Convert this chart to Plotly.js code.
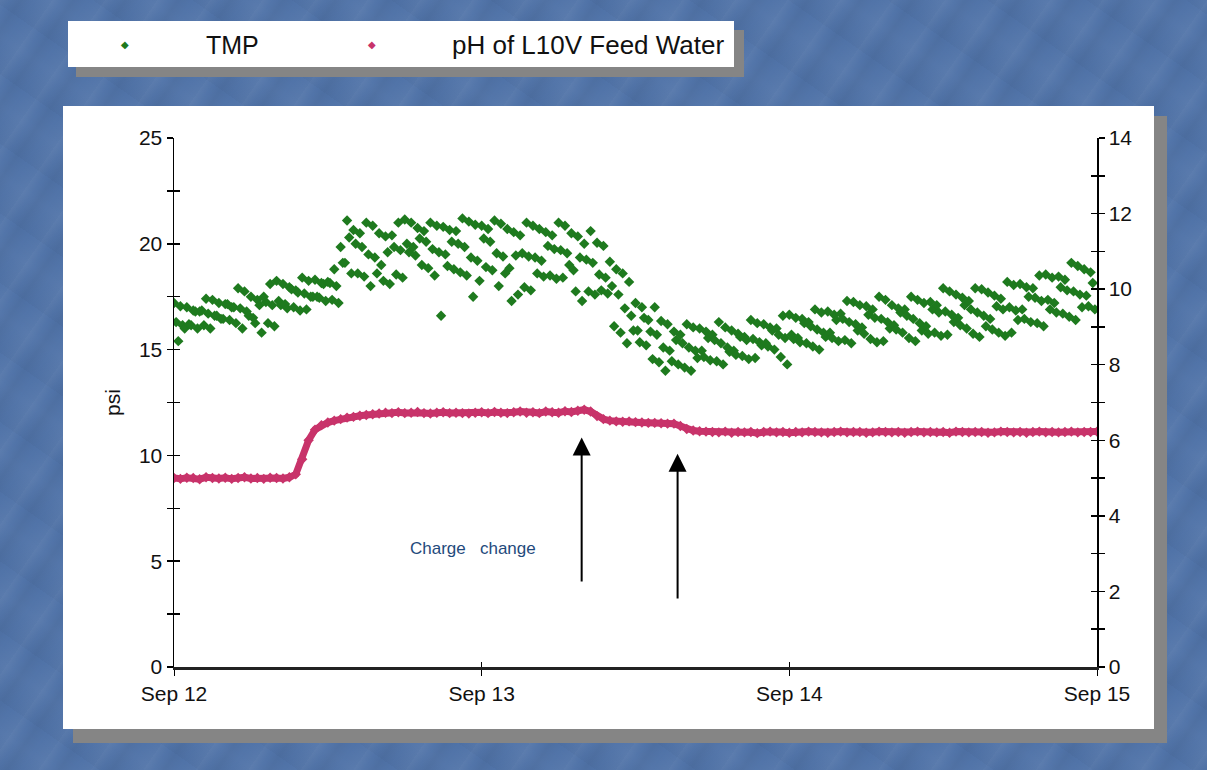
<!DOCTYPE html>
<html>
<head>
<meta charset="utf-8">
<script src="https://cdn.plot.ly/plotly-3.0.1.min.js"></script>
<style>
html,body{margin:0;padding:0;width:1207px;height:770px;overflow:hidden;}
body{
  background-color:#5073a8;
  background-image:
    repeating-linear-gradient(125deg, rgba(255,255,255,0.05) 0px, rgba(255,255,255,0.0) 9px, rgba(0,0,0,0.04) 17px, rgba(255,255,255,0.0) 29px, rgba(255,255,255,0.03) 43px),
    repeating-linear-gradient(35deg, rgba(0,0,0,0.025) 0px, rgba(255,255,255,0.025) 31px, rgba(0,0,0,0.0) 57px);
}
#chart{width:1207px;height:770px;}
</style>
</head>
<body>
<div id="chart"></div>
<script>
// ---------------- data ----------------
const START_UTC = Date.UTC(2005, 8, 12, 0, 0, 0);   // Sep 12
const TMP_STEP_MIN = 10;   // TMP reading interval (minutes)
const PH_STEP_MIN = 30;    // pH reading interval (minutes)

// TMP (psi), one reading every 10 minutes, Sep 12 00:00 -> Sep 14 23:50
const tmpValues = [
  17.2,16.3,15.4, 17.05,16.15,16.0,   17.0,16.2,16.15, 16.85,16.8,16.0,
  16.8,16.85,16.15, 17.4,16.7,16.0,   17.35,16.6,16.6, 17.2,16.45,16.45,
  17.15,17.15,16.4, 17.0,17.0,16.25,  17.9,16.95,16.0, 17.75,16.8,16.6,
  17.5,16.5,16.25, 17.35,17.1,15.8,   17.5,17.25,16.25, 18.1,17.1,16.1,
  18.25,17.3,17.1, 18.1,17.15,16.95,  17.95,17.85,17.0, 17.8,17.7,16.85,
  18.4,17.65,16.9, 18.25,17.5,17.5,   18.3,17.5,17.45, 18.15,18.1,17.3,
  18.2,18.15,17.35, 18.8,18.0,17.2,   19.85,19.1,19.1, 21.1,20.3,18.6,
  20.65,20.0,18.6, 20.5,19.85,18.45,  21.0,19.5,18.0, 20.85,19.35,18.6,
  20.5,19.0,18.25, 20.35,19.6,18.1,   20.4,19.85,18.55, 21.0,19.7,18.4,
  21.15,20.0,19.6, 21.0,19.85,19.45,  20.75,20.25,19.0, 20.6,20.1,18.85,
  21.0,19.75,18.5, 20.85,19.6,16.6,   20.8,19.5,18.95, 20.65,20.1,18.8,
  20.6,20.0,18.65, 21.2,19.85,18.5,   21.05,19.35,17.5, 20.9,19.2,18.25,
  20.85,20.25,18.9, 20.7,20.1,18.75,  21.1,19.55,18.0, 20.95,19.4,18.6,
  20.7,18.85,17.3, 20.55,19.45,17.6,  20.4,19.55,17.95, 21.0,19.4,17.8,
  20.85,19.35,18.6, 20.7,19.2,18.45,  20.55,19.9,18.5, 20.4,19.75,18.35,
  21.0,19.7,18.4, 20.85,19.55,19.0,   20.5,18.75,17.75, 20.35,19.35,17.3,
  20.0,19.25,17.75, 20.6,19.1,17.6,   20.05,18.55,17.8, 19.9,18.4,17.65,
  19.15,18.0,16.1, 18.8,17.6,15.8,    18.6,16.95,15.3, 18.2,16.6,15.9,
  17.2,15.9,15.35, 17.0,16.5,15.2,    16.4,15.85,14.55, 17.0,15.7,14.4,
  16.35,15.1,14.0, 16.2,14.95,14.45,  15.85,15.45,14.3, 15.7,15.3,14.15,
  16.2,15.1,14.0, 16.05,14.95,14.6,   16.0,14.95,14.65, 15.85,15.55,14.5,
  15.7,15.45,14.45, 16.3,15.3,14.3,   16.05,15.1,14.9, 15.9,14.95,14.75,
  15.75,15.6,14.7, 15.6,15.45,14.55,  16.4,15.5,14.6, 16.25,15.35,15.2,
  16.2,15.3,15.15, 16.05,15.9,15.0,   16.0,15.7,14.65, 16.6,15.55,14.3,
  16.65,15.7,15.5, 16.5,15.55,15.35,  16.45,16.25,15.3, 16.3,16.1,15.15,
  16.9,15.95,15.0, 16.75,15.8,15.6,   16.8,15.8,15.55, 16.65,16.4,15.4,
  16.7,16.45,15.45, 17.3,16.3,15.3,   17.25,16.2,15.9, 17.1,16.05,15.75,
  17.05,16.65,15.5, 16.9,16.5,15.35,  17.5,16.45,15.4, 17.35,16.3,16.0,
  17.1,16.15,15.95, 16.95,16.75,15.8, 16.9,16.6,15.55, 17.5,16.45,15.4,
  17.35,16.25,15.9, 17.2,16.1,15.75,  17.25,16.9,15.8, 17.1,16.75,15.65,
  17.9,16.8,15.7, 17.75,16.65,16.3,   17.6,16.5,16.15, 17.45,17.1,16.0,
  17.3,16.9,15.75, 17.9,16.75,15.6,   17.85,16.6,16.1, 17.7,16.45,15.95,
  17.55,17.05,15.8, 17.4,16.9,15.65,  18.2,17.0,15.8, 18.05,16.85,16.4,
  18.1,16.9,16.45, 17.95,17.5,16.3,   17.9,17.45,16.25, 18.5,17.3,16.1,
  18.55,17.35,16.9, 18.4,17.2,16.75,  18.45,17.95,16.7, 18.3,17.8,16.55,
  19.1,17.75,16.4, 18.95,17.6,17.0,   18.8,17.55,17.05, 18.65,18.15,16.9
];

// pH of L10V feed water, one reading every 30 minutes, Sep 12 00:00 -> Sep 15 00:00
const phValues = [
  5.00,4.98,5.01,5.00,4.97,5.02,5.00,4.99,5.01,4.98,
  5.00,5.02,4.99,5.00,4.98,5.01,5.00,4.99,5.02,5.10,
  5.50,6.00,6.28,6.40,6.47,6.52,6.56,6.60,6.62,6.65,6.67,6.69,
  6.71,6.73,6.72,6.74,6.72,6.73,6.75,6.72,6.71,6.73,6.74,6.72,6.73,6.72,6.71,6.73,
  6.74,6.72,6.75,6.73,6.72,6.74,6.76,6.73,6.74,6.72,6.76,6.74,6.73,6.77,6.75,6.78,
  6.81,6.76,6.64,6.56,6.52,6.50,6.49,6.50,6.48,6.47,6.46,6.46,6.45,6.44,6.44,6.38,6.30,6.26,6.24,6.23,
  6.22,6.21,6.23,6.20,6.22,6.21,6.22,6.19,6.22,6.23,6.21,6.22,6.20,6.22,6.21,6.23,
  6.22,6.21,6.20,6.22,6.23,6.21,6.22,6.22,6.20,6.21,6.23,6.22,6.21,6.22,6.20,6.22,
  6.23,6.21,6.22,6.21,6.22,6.20,6.23,6.22,6.21,6.22,6.22,6.20,6.21,6.23,6.22,6.21,
  6.22,6.20,6.22,6.23,6.21,6.22,6.21,6.22,6.23,6.21,6.22,6.22,6.23
];

const xRange = ['2005-09-12 00:00', '2005-09-15 00:00'];
const psiRange = [0, 25];
const phRange = [0, 14];
const seriesNames = ['TMP', 'pH of L10V Feed Water'];
const annotationText = 'Charge\u00a0\u00a0\u00a0change';
// times of the two "charge change" events and arrow tip / tail levels (psi)
const eventTimes = ['2005-09-13 07:48', '2005-09-13 15:17'];
const eventTips = [10.85, 10.08];
const eventTails = [3.97, 3.17];

// -------------- helpers --------------
function stamp(minutes) {
  const d = new Date(START_UTC + minutes * 60000);
  return d.toISOString().slice(0, 19).replace('T', ' ');
}
const tmpX = tmpValues.map((_, i) => stamp(i * TMP_STEP_MIN));
const phX = phValues.map((_, i) => stamp(i * PH_STEP_MIN));

// layout geometry (pixels)
const W = 1207, H = 770;
const M = {l: 174, r: 110, t: 138, b: 103};
const PW = W - M.l - M.r, PH = H - M.t - M.b;
const px = x => (x - M.l) / PW;
const py = y => (H - M.b - y) / PH;

const GREEN = '#1e7a1e';
const PINK = '#c8336a';
const FONT = 'Liberation Sans, Arial, Helvetica, sans-serif';

const traces = [
  {
    type: 'scatter', mode: 'markers', name: seriesNames[0],
    x: tmpX, y: tmpValues, xaxis: 'x', yaxis: 'y',
    marker: {symbol: 'diamond', size: 8, color: GREEN},
    hoverinfo: 'x+y', showlegend: false
  },
  {
    type: 'scatter', mode: 'lines+markers', name: seriesNames[1],
    x: phX, y: phValues, xaxis: 'x', yaxis: 'y2',
    line: {color: PINK, width: 7},
    marker: {symbol: 'diamond', size: 8, color: PINK},
    hoverinfo: 'x+y', showlegend: false
  },
  // empty carriers so the tick-only overlay axes get drawn (crossing ticks)
  {type: 'scatter', mode: 'markers', x: [], y: [], xaxis: 'x2', yaxis: 'y3', showlegend: false, hoverinfo: 'skip'},
  {type: 'scatter', mode: 'markers', x: [], y: [], xaxis: 'x', yaxis: 'y4', showlegend: false, hoverinfo: 'skip'}
];

const tickFont = {family: FONT, size: 21, color: '#111'};

function rect(x0, y0, x1, y1, color) {
  return {type: 'rect', xref: 'paper', yref: 'paper', layer: 'below',
    x0: px(x0), x1: px(x1), y0: py(y1), y1: py(y0),
    fillcolor: color, line: {width: 0}};
}

const shapes = [
  rect(76, 30, 744, 77, '#858585'),    // legend shadow
  rect(68, 21, 734, 67, '#ffffff'),    // legend box
  rect(73, 116, 1167, 743, '#858585'), // chart shadow
  rect(63, 106, 1154, 729, '#ffffff')  // chart panel
];

const annotations = [
  {xref: 'paper', yref: 'paper', x: px(125), y: py(44), text: '\u25C6', showarrow: false,
   font: {family: 'DejaVu Sans', size: 10, color: GREEN}, xanchor: 'center', yanchor: 'middle'},
  {xref: 'paper', yref: 'paper', x: px(204), y: py(45), text: seriesNames[0], showarrow: false,
   font: {family: FONT, size: 25, color: '#111'}, xanchor: 'left', yanchor: 'middle'},
  {xref: 'paper', yref: 'paper', x: px(372), y: py(44), text: '\u25C6', showarrow: false,
   font: {family: 'DejaVu Sans', size: 10, color: PINK}, xanchor: 'center', yanchor: 'middle'},
  {xref: 'paper', yref: 'paper', x: px(450), y: py(45), text: seriesNames[1], showarrow: false,
   font: {family: FONT, size: 26, color: '#111'}, xanchor: 'left', yanchor: 'middle'},
  {xref: 'paper', yref: 'paper', x: px(408), y: py(548), text: annotationText, showarrow: false,
   font: {family: FONT, size: 17, color: '#1f4a7c'}, xanchor: 'left', yanchor: 'middle'}
];
eventTimes.forEach((t, i) => {
  annotations.push({
    xref: 'x', yref: 'y', axref: 'x', ayref: 'y',
    x: t, y: eventTips[i], ax: t, ay: eventTails[i],
    text: '', showarrow: true, arrowhead: 2, arrowsize: 1.8, arrowwidth: 2,
    arrowcolor: '#000', standoff: 0, startstandoff: 0
  });
});

const layout = {
  width: W, height: H, autosize: false,
  margin: M,
  paper_bgcolor: 'rgba(0,0,0,0)', plot_bgcolor: 'rgba(0,0,0,0)',
  showlegend: false,
  font: {family: FONT, color: '#111'},
  xaxis: {
    type: 'date', range: xRange, tick0: xRange[0], dtick: 86400000, tickformat: '%b %d',
    ticks: 'outside', ticklen: 6, tickwidth: 1, tickcolor: '#000',
    showline: true, linecolor: '#222', linewidth: 2.5, showgrid: false, zeroline: false,
    tickfont: tickFont, fixedrange: true
  },
  xaxis2: {
    type: 'date', range: xRange, tick0: xRange[0], dtick: 86400000, overlaying: 'x', anchor: 'y',
    ticks: 'inside', ticklen: 5, tickwidth: 1, tickcolor: '#000',
    showticklabels: false, showline: false, showgrid: false, zeroline: false
  },
  yaxis: {
    range: psiRange, dtick: 5, tick0: 0,
    ticks: 'outside', ticklen: 6, tickwidth: 1.5, tickcolor: '#000',
    minor: {dtick: 2.5, ticks: 'outside', ticklen: 6, tickwidth: 1.5, tickcolor: '#000', showgrid: false},
    showline: true, linecolor: '#000', linewidth: 1.5, showgrid: false, zeroline: false,
    tickfont: tickFont,
    title: {text: 'psi', font: {family: FONT, size: 21, color: '#111'}, standoff: 12}
  },
  yaxis3: {
    range: psiRange, dtick: 2.5, tick0: 0, overlaying: 'y', side: 'left', anchor: 'x',
    ticks: 'inside', ticklen: 6, tickwidth: 1.5, tickcolor: '#000',
    showticklabels: false, showline: false, showgrid: false, zeroline: false
  },
  yaxis2: {
    range: phRange, dtick: 2, tick0: 0, overlaying: 'y', side: 'right', anchor: 'x',
    ticks: 'outside', ticklen: 6, tickwidth: 1.5, tickcolor: '#000',
    minor: {dtick: 1, ticks: 'outside', ticklen: 6, tickwidth: 1.5, tickcolor: '#000', showgrid: false},
    showline: true, linecolor: '#000', linewidth: 1.5, showgrid: false, zeroline: false,
    tickfont: tickFont
  },
  yaxis4: {
    range: phRange, dtick: 1, tick0: 0, overlaying: 'y', side: 'right', anchor: 'x',
    ticks: 'inside', ticklen: 6, tickwidth: 1.5, tickcolor: '#000',
    showticklabels: false, showline: false, showgrid: false, zeroline: false
  },
  shapes: shapes,
  annotations: annotations
};

Plotly.newPlot('chart', traces, layout, {displayModeBar: false, staticPlot: true});
</script>
</body>
</html>
